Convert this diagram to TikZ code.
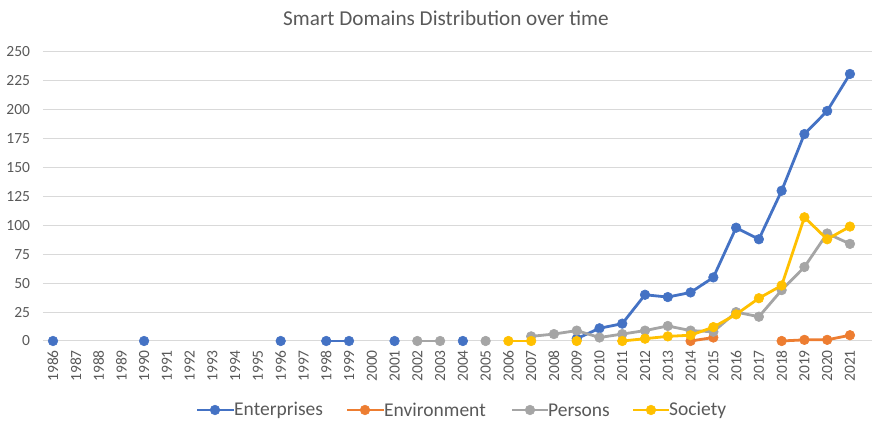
\documentclass[tikz,border=0pt]{standalone}
\usepackage{fontspec}
\setmainfont{Carlito}
\usepackage{tikz}

\definecolor{entc}{HTML}{4472C4}
\definecolor{envc}{HTML}{ED7D31}
\definecolor{perc}{HTML}{A5A5A5}
\definecolor{socc}{HTML}{FFC000}
\definecolor{txtc}{HTML}{595959}
\definecolor{gridc}{HTML}{D9D9D9}

\tikzset{
	grid line/.style={gridc, line width=1pt},
	ylab/.style={anchor=east, inner sep=0pt, text=txtc, font=\fontsize{15.5}{16}\selectfont},
	xlab/.style={rotate=90, anchor=east, inner sep=0pt, text=txtc, font=\fontsize{15.5}{16}\selectfont},
	series/.style={line width=2.8pt, line join=round, mark=*, mark size=4.8pt,
		mark options={fill=#1, draw=#1, line width=0.6pt}, color=#1},
	legtext/.style={anchor=west, inner sep=0pt, text=txtc, font=\fontsize{19.5}{22}\selectfont},
}

\begin{document}
\begin{tikzpicture}[x=1pt,y=1pt]

	\useasboundingbox (0,0) rectangle (880,422);

	\node[text=txtc, font=\fontsize{21.2}{24}\selectfont] (title) at (446,404) {Smart Domains Distribution over time};

	\begin{scope}[shift={(53,81)}, x=22.77pt, y=1.156pt]

	\foreach \v in {0,25,...,250}{
		\draw[grid line] (-0.44,\v) -- (35.95,\v);
		\node[ylab] (y\v) at (-1.0,\v) {\v};
	}
	\foreach \i in {0,...,35}{
		\pgfmathtruncatemacro\yr{1986+\i}
		\node[xlab] (x\yr) at ([yshift=-9pt]\i,0) {\yr};
	}

	% Enterprises
	\draw[series=entc] plot coordinates {(0,0)};
	\draw[series=entc] plot coordinates {(4,0)};
	\draw[series=entc] plot coordinates {(10,0)};
	\draw[series=entc] plot coordinates {(12,0) (13,0)};
	\draw[series=entc] plot coordinates {(15,0)};
	\draw[series=entc] plot coordinates {(18,0)};
	\draw[series=entc] plot coordinates {(23,2) (24,11) (25,15) (26,40) (27,38) (28,42) (29,55) (30,98) (31,88) (32,130) (33,179) (34,199) (35,231)};

	% Environment
	\draw[series=envc] plot coordinates {(28,0) (29,3)};
	\draw[series=envc] plot coordinates {(32,0) (33,1) (34,1) (35,5)};

	% Persons
	\draw[series=perc] plot coordinates {(16,0) (17,0)};
	\draw[series=perc] plot coordinates {(19,0)};
	\draw[series=perc] plot coordinates {(21,4) (22,6) (23,9) (24,3) (25,6) (26,9) (27,13) (28,9) (29,8) (30,25) (31,21) (32,44) (33,64) (34,93) (35,84)};

	% Society
	\draw[series=socc] plot coordinates {(20,0) (21,0)};
	\draw[series=socc] plot coordinates {(23,0)};
	\draw[series=socc] plot coordinates {(25,0) (26,2) (27,4) (28,5) (29,12) (30,23) (31,37) (32,48) (33,107) (34,88) (35,99)};

	\end{scope}

	% legend
	\coordinate (entL) at (197,12);
	\node[legtext] (entT) at (234,12) {Enterprises};
	\draw[series=entc, mark=none] (entL) -- (entT.west);
	\draw[series=entc] plot coordinates {(215,12)};

	\coordinate (envL) at (347,12);
	\node[legtext] (envT) at (384,12) {Environment};
	\draw[series=envc, mark=none] (envL) -- (envT.west);
	\draw[series=envc] plot coordinates {(365,12)};

	\coordinate (perL) at (512,12);
	\node[legtext] (perT) at (548,12) {Persons};
	\draw[series=perc, mark=none] (perL) -- (perT.west);
	\draw[series=perc] plot coordinates {(530,12)};

	\coordinate (socL) at (633,12);
	\node[legtext] (socT) at (669,12) {Society};
	\draw[series=socc, mark=none] (socL) -- (socT.west);
	\draw[series=socc] plot coordinates {(651,12)};

\end{tikzpicture}
\end{document}
